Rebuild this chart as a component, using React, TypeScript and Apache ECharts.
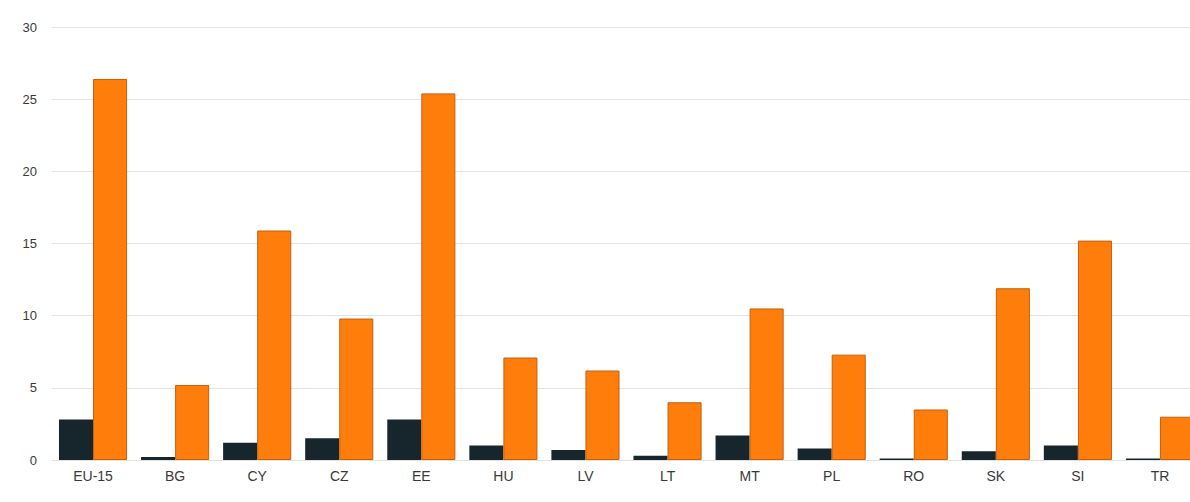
import React, { useEffect, useRef } from "react";
import * as echarts from "echarts";

const categories = ["EU-15", "BG", "CY", "CZ", "EE", "HU", "LV", "LT", "MT", "PL", "RO", "SK", "SI", "TR"];
const darkValues = [2.8, 0.2, 1.2, 1.5, 2.8, 1.0, 0.7, 0.3, 1.7, 0.8, 0.1, 0.6, 1.0, 0.1];
const orangeValues = [26.4, 5.2, 15.9, 9.8, 25.4, 7.1, 6.2, 4.0, 10.5, 7.3, 3.5, 11.9, 15.2, 3.0];

export default function App() {
  const ref = useRef<HTMLDivElement>(null);
  useEffect(() => {
    if (!ref.current) return;
    const chart = echarts.init(ref.current, undefined, { renderer: "svg" });
    chart.setOption({
      animation: false,
      backgroundColor: "#ffffff",
      grid: { left: 52, right: 0, top: 27, bottom: 42, containLabel: false },
      xAxis: {
        type: "category",
        data: categories,
        axisLine: { show: false },
        axisTick: { show: false },
        axisLabel: { color: "#3a3a3a", fontSize: 14, fontFamily: "Liberation Sans, Arial, sans-serif", margin: 9 },
      },
      yAxis: {
        type: "value",
        min: 0,
        max: 30,
        interval: 5,
        axisLine: { show: false },
        axisTick: { show: false },
        axisLabel: { color: "#3a3a3a", fontSize: 13, fontFamily: "Liberation Sans, Arial, sans-serif", margin: 15 },
        splitLine: { lineStyle: { color: "#e2e2e2", width: 1 } },
      },
      series: [
        {
          type: "bar",
          data: darkValues,
          barGap: "0%",
          barCategoryGap: "17%",
          itemStyle: { color: "#17262d" },
        },
        {
          type: "bar",
          data: orangeValues,
          barGap: "0%",
          barCategoryGap: "17%",
          itemStyle: { color: "#ff7d0a", borderColor: "#c2600f", borderWidth: 1 },
        },
      ],
    });
    return () => chart.dispose();
  }, []);
  return (
    <div style={{ position: "absolute", left: 0, top: 0, width: 1190, height: 502, overflow: "hidden" }}>
      <div ref={ref} style={{ width: 1201, height: 502 }} />
    </div>
  );
}
